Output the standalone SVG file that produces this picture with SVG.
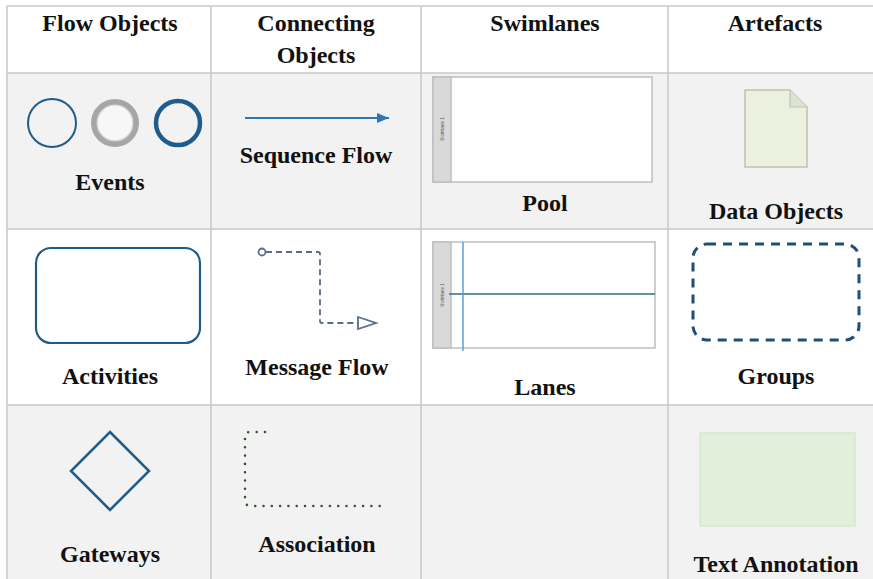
<svg xmlns="http://www.w3.org/2000/svg" width="873" height="579" viewBox="0 0 873 579">
<style>
.lbl{font-family:"Liberation Serif","Times New Roman",serif;font-weight:bold;font-size:24px;fill:#111;text-anchor:middle}
.grid{stroke:#c8c8c8;stroke-width:1.5;fill:none}
.gray{fill:#f2f2f2}
.white{fill:#ffffff}
.blue{stroke:#1f5c8b;fill:none}
.tiny{font-family:"Liberation Sans",Arial,sans-serif;font-size:4.5px;fill:#555;text-anchor:middle}
</style>
<defs>
<marker id="seq" markerWidth="12" markerHeight="10" refX="12" refY="5" orient="auto" markerUnits="userSpaceOnUse">
<path d="M0,0 L12,5 L0,10 Z" fill="#2e75b6"/>
</marker>
</defs>
<rect x="0" y="0" width="873" height="579" fill="#ffffff"/>
<g id="backgrounds">
<rect class="white" x="7" y="6" width="866" height="67"/>
<rect class="gray" x="7" y="73" width="866" height="156"/>
<rect class="white" x="7" y="229" width="866" height="176"/>
<rect class="gray" x="7" y="405" width="866" height="174"/>
</g>
<g id="grid">
<path class="grid" d="M7,6 H873 M7,73 H873 M7,229 H873 M7,405 H873 M7,6 V579 M211,6 V579 M421,6 V579 M668,6 V579"/>
</g>
<g id="headers">
<text class="lbl" x="110" y="31">Flow Objects</text>
<text class="lbl" x="316" y="31">Connecting</text>
<text class="lbl" x="316" y="63">Objects</text>
<text class="lbl" x="545" y="31">Swimlanes</text>
<text class="lbl" x="775" y="31">Artefacts</text>
</g>
<g id="events">
<circle class="blue" cx="52" cy="123" r="24" stroke-width="2"/>
<circle cx="115" cy="123" r="21" fill="#f7f7f7" stroke="#a6a6a6" stroke-width="6"/>
<circle cx="115" cy="123" r="18" fill="none" stroke="#cfcfcf" stroke-width="1.2"/>
<circle class="blue" cx="178" cy="123" r="22" stroke-width="4.5"/>
<text class="lbl" x="110" y="190">Events</text>
</g>
<g id="activities">
<rect class="blue" x="36" y="248" width="164" height="95" rx="15" stroke-width="2.2"/>
<text class="lbl" x="110" y="384">Activities</text>
</g>
<g id="gateways">
<polygon class="blue" points="110,432 149,471 110,510 71,471" stroke-width="2.5"/>
<text class="lbl" x="110" y="562">Gateways</text>
</g>
<g id="connectors">
<g id="sequence-flow">
<line x1="245" y1="118" x2="389" y2="118" stroke="#2e75b6" stroke-width="1.8" marker-end="url(#seq)"/>
<text class="lbl" x="316" y="163">Sequence Flow</text>
</g>
<g id="message-flow">
<path d="M266,252 H318 Q320,252 320,254 V321 Q320,323 322,323 H358" fill="none" stroke="#5a6b82" stroke-width="1.8" stroke-dasharray="6 4"/>
<circle cx="262" cy="252" r="3.5" fill="#fff" stroke="#5a6e8c" stroke-width="1.8"/>
<polygon points="358,317 376,323 358,329" fill="#fff" stroke="#5a6e8c" stroke-width="1.8"/>
<text class="lbl" x="317" y="375">Message Flow</text>
</g>
<g id="association">
<path d="M265,432 H250 Q245,432 245,437 V500 Q245,506 251,506 H383" fill="none" stroke="#2d5a27" stroke-width="2.6" stroke-linecap="round" stroke-dasharray="0 8.3"/>
<text class="lbl" x="317" y="552">Association</text>
</g>
</g>
<g id="pool">
<rect x="433" y="77" width="219" height="105" fill="#fff" stroke="#bfbfbf" stroke-width="1.5"/>
<rect x="433" y="77" width="18" height="105" fill="#d9d9d9" stroke="#bfbfbf" stroke-width="1.5"/>
<text class="tiny" transform="translate(443.5,129) rotate(-90)">Swimlane 1</text>
<text class="lbl" x="545" y="211">Pool</text>
</g>
<g id="lanes">
<rect x="433" y="242" width="222" height="106" fill="#fff" stroke="#bfbfbf" stroke-width="1.5"/>
<rect x="433" y="242" width="18" height="106" fill="#d9d9d9" stroke="#bfbfbf" stroke-width="1.5"/>
<text class="tiny" transform="translate(443.5,295) rotate(-90)">Swimlane 1</text>
<line x1="449" y1="294" x2="655" y2="294" stroke="#2e6b8a" stroke-width="1.5"/>
<line x1="463" y1="242" x2="463" y2="351" stroke="#5b9bd5" stroke-width="1.5"/>
<text class="lbl" x="545" y="395">Lanes</text>
</g>
<g id="data-objects">
<path d="M745,90 H790 L807,107 V167 H745 Z" fill="#ebf1de" stroke="#bcc4ad" stroke-width="1.5"/>
<path d="M790,90 V107 H807" fill="#dde3d0" stroke="#bcc4ad" stroke-width="1.2"/>
<text class="lbl" x="776" y="219">Data Objects</text>
</g>
<g id="groups">
<rect x="693" y="244" width="166" height="96" rx="14" fill="#fff" stroke="#1f4e79" stroke-width="3" stroke-dasharray="9 7"/>
<text class="lbl" x="776" y="384">Groups</text>
</g>
<g id="text-annotation">
<rect x="700" y="433" width="155" height="93" fill="#e2efda" stroke="#d3e6c8" stroke-width="1.2"/>
<text class="lbl" x="776" y="572">Text Annotation</text>
</g>
</svg>
